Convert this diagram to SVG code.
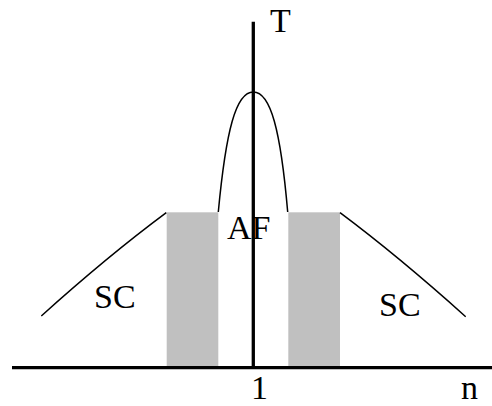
<svg xmlns="http://www.w3.org/2000/svg" width="492" height="406" viewBox="0 0 492 406">
<style>
.t{font-size:34px;fill:#000}
.c{fill:none;stroke:#000;stroke-width:1.5}
.band{fill:#c0c0c0}
.ax{stroke:#000;stroke-width:3.3}
</style>
<rect width="492" height="406" fill="#fff"/>
<g id="bands">
<rect class="band" x="166.7" y="212.3" width="51.6" height="155.4"/>
<rect class="band" x="288.3" y="212.3" width="51.7" height="155.4"/>
</g>
<g id="curves">
<path class="c" d="M41.3,316 Q108,256 166.3,212.7"/>
<path class="c" d="M340,212.7 Q398,256 465.7,316.7"/>
<path class="c" d="M218.3,212 C226,130 236,92 253.3,92 C270.6,92 280.6,130 287.7,212"/>
</g>
<g id="axes">
<line class="ax" x1="253.3" y1="21.7" x2="253.3" y2="369"/>
<line class="ax" x1="12" y1="367.7" x2="492" y2="367.7"/>
</g>
<g id="labels" font-family="'Liberation Serif', 'Times New Roman', Tinos, serif">
<text class="t" x="270" y="31.7">T</text>
<text class="t" x="227" y="239">AF</text>
<text class="t" x="94" y="308.3">SC</text>
<text class="t" x="379" y="316">SC</text>
<text class="t" x="251" y="398.5" font-size="32">1</text>
<text class="t" x="461" y="398.5" font-size="32">n</text>
</g>
</svg>
